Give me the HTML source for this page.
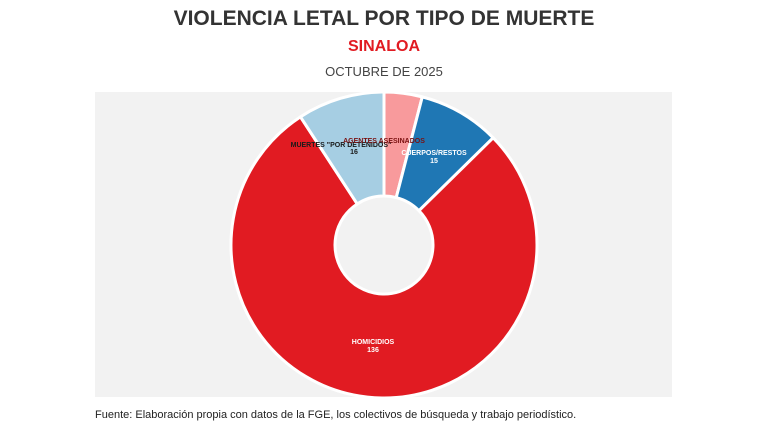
<!DOCTYPE html>
<html><head><meta charset="utf-8"><style>
body{margin:0;width:768px;height:432px;background:#fff;overflow:hidden;font-family:"Liberation Sans",sans-serif;position:relative}
.t{position:absolute;left:0;width:768px;text-align:center}
</style></head><body>
<div class="t" style="top:7px;font-size:21px;font-weight:bold;color:#333">VIOLENCIA LETAL POR TIPO DE MUERTE</div>
<div class="t" style="top:38px;font-size:16px;font-weight:bold;color:#e11b22">SINALOA</div>
<div class="t" style="top:64px;font-size:13px;color:#444">OCTUBRE DE 2025</div>
<div style="position:absolute;left:95px;top:92px;width:577px;height:305px;background:#f2f2f2"></div>
<svg id="s" width="768" height="432" style="position:absolute;left:0;top:0">
<g id="w"></g>
<g font-size="7" font-weight="bold" text-anchor="middle" font-family="Liberation Sans,sans-serif">
<text x="341" y="147" fill="#1a1a1a">MUERTES "POR DETENIDOS"</text>
<text x="354" y="154" fill="#1a1a1a">16</text>
<text x="384" y="143" fill="#7a1010">AGENTES ASESINADOS</text>
<text x="434" y="155" fill="#fff">CUERPOS/RESTOS</text>
<text x="434" y="163" fill="#fff">15</text>
<text x="373" y="344" fill="#fff">HOMICIDIOS</text>
<text x="373" y="352" fill="#fff">136</text>
</g>
</svg>
<div style="position:absolute;left:95px;top:409px;font-size:11px;color:#222">Fuente: Elaboración propia con datos de la FGE, los colectivos de búsqueda y trabajo periodístico.</div>
<script>
var d=[[7,"#f89a9c"],[15,"#1f77b4"],[136,"#e11b22"],[16,"#a6cee3"]],tot=174,cx=384,cy=245,R=153,r=49,a=0,h="";
function p(rad,ang){return [cx+rad*Math.sin(ang),cy-rad*Math.cos(ang)];}
d.forEach(function(e){var b=a+e[0]/tot*2*Math.PI,l=(b-a)>Math.PI?1:0;
var A=p(R,a),B=p(R,b),C=p(r,b),D=p(r,a);
h+='<path d="M'+A+' A'+R+','+R+' 0 '+l+' 1 '+B+' L'+C+' A'+r+','+r+' 0 '+l+' 0 '+D+'Z" fill="'+e[1]+'" stroke="#fff" stroke-width="3" stroke-linejoin="round"/>';a=b;});
document.getElementById("w").innerHTML=h;
</script>
</body></html>
